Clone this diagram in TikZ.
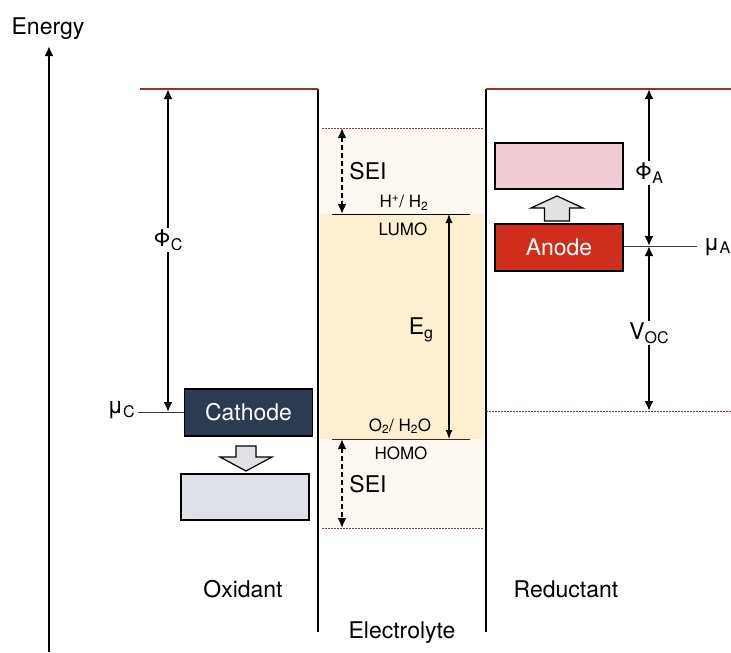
\documentclass[tikz,border=0pt]{standalone}
\usepackage{fontspec}
\setmainfont{TeX Gyre Heros}
\usetikzlibrary{arrows.meta,calc,positioning}
\definecolor{levelred}{RGB}{150,52,40}
\definecolor{cathodeblue}{RGB}{44,58,82}
\definecolor{cathodegrey}{RGB}{222,225,232}
\definecolor{anodered}{RGB}{208,46,28}
\definecolor{anodepink}{RGB}{242,204,212}
\definecolor{arrowgrey}{RGB}{226,226,230}
\definecolor{bandyellow}{RGB}{252,240,208}
\definecolor{seipale}{RGB}{253,249,242}
\newcommand{\lsub}[2]{#1\raisebox{-.3ex}{\fontsize{16}{16}\selectfont #2}}

\begin{document}
\begin{tikzpicture}[x=1pt,y=-1pt,
  font=\fontsize{23}{27}\selectfont,
  wall/.style={line width=2.6pt},
  level/.style={draw=levelred,line width=1.1pt},
  dotlevel/.style={draw=levelred,line width=1pt,dash pattern=on 1.5pt off 1.5pt},
  arr/.style={{Latex[length=10pt,width=9pt]}-{Latex[length=10pt,width=9pt]},line width=2.3pt},
  thinarr/.style={{Latex[length=9pt,width=7pt]}-{Latex[length=9pt,width=7pt]},line width=1.1pt},
  seiarr/.style={arr,dash pattern=on 5pt off 3pt},
  lbl/.style={fill=white,inner sep=2pt},
  small/.style={font=\fontsize{17}{19}\selectfont,inner sep=0pt},
  band/.style={draw=black,line width=1.8pt,minimum width=128pt,minimum height=47pt,inner sep=0pt},
  blockarr/.style={draw=black,line width=1.2pt,fill=arrowgrey}]
\useasboundingbox (0,0) rectangle (731,653);

% electrolyte window and its SEI margins
\fill[seipale] (320,128) rectangle (484,214);
\fill[bandyellow] (320,214) rectangle (484,439);
\fill[seipale] (320,439) rectangle (484,528);

% energy axis
\node (energy) at (48,29) {Energy};
\coordinate (axisbot) at (49,652);
\coordinate (axistop) at (49,46);
\draw[line width=2.8pt,-{Latex[length=10pt,width=9pt]}] (axisbot) -- (axistop);

% walls of the oxidant and the reductant
\coordinate (oxtop) at (318,89);
\coordinate (oxbot) at (318,632);
\coordinate (redtop) at (486,89);
\coordinate (redbot) at (486,632);
\draw[wall] (oxtop) -- (oxbot);
\draw[wall] (redtop) -- (redbot);
\draw[level] (140,89) -- (oxtop);
\draw[level] (redtop) -- (731,89);
\draw[dotlevel] (redtop |- 0,411) coordinate (vocbot) -- (731,411);
\draw[dotlevel] (322,128) coordinate (seitop) -- (484,128);
\draw[dotlevel] (322,528) coordinate (seibot) -- (484,528);

% cathode side
\node[band,fill=cathodeblue,text=white] (cathode) at (248.5,412.5) {Cathode};
\node[band,fill=cathodegrey,minimum height=46pt] (cathodeox) at (245,497) {};
\node (muC) at (121,410) {\lsub{μ}{C}};
\draw[draw=cathodeblue,line width=.8pt] (cathode.west) -- (cathode.west -| muC.east);
\coordinate (phiCtop) at (168,89);
\coordinate (phiCbot) at (168,412);
\draw[arr] (phiCtop) -- (phiCbot);
\node[lbl] (phiC) at (168,240) {\lsub{Φ}{C}};
\draw[blockarr,shift={(246,471)}] (0,0) -- (26,-14) -- (10,-14) -- (10,-25)
  -- (-10,-25) -- (-10,-14) -- (-26,-14) -- cycle;
\node (oxidant) at (243,589) {Oxidant};

% electrolyte
\coordinate (lumoL) at (332,214);
\coordinate (homoL) at (332,439);
\draw[line width=.9pt] (lumoL) -- ++(138,0);
\draw[draw=levelred!60!black,line width=.9pt] (homoL) -- ++(138,0);
\draw[seiarr] (seitop -| 342,0) -- (lumoL -| 342,0);
\draw[seiarr] (homoL -| 342,0) -- (seibot -| 342,0);
\node (seiU) at (368,171) {SEI};
\node (seiL) at (368,484) {SEI};
\draw[thinarr] (lumoL -| 449,0) -- (homoL -| 449,0);
\node (Eg) at (421,330) {\lsub{E}{g}};
\node[small] (lumo) at (403,229) {LUMO};
\node[small] (hred) at (404,203) {H\textsuperscript{+}/ H\textsubscript{2}};
\node[small] (homo) at (401,453) {HOMO};
\node[small] (oxw) at (400,426) {O\textsubscript{2}/ H\textsubscript{2}O};
\node (electrolyte) at (402,633) {Electrolyte};

% anode side
\node[band,fill=anodered,text=white] (anode) at (559,247.5) {Anode};
\node[band,fill=anodepink,minimum height=46pt] (anodeox) at (559,166) {};
\node (muA) at (717,247) {\lsub{μ}{A}};
\coordinate (muAend) at (697,246);
\draw[draw=cathodeblue,line width=.8pt] (anode.east |- muAend) -- (muAend);
\coordinate (phiAtop) at (649,89);
\coordinate (muAlvl) at (649,246);
\draw[arr] (phiAtop) -- (muAlvl);
\draw[arr] (muAlvl) -- (vocbot -| muAlvl);
\node[lbl] (phiA) at (649,173) {\lsub{Φ}{A}};
\node[lbl] (voc) at (649,333) {\lsub{V}{OC}};
\draw[blockarr,shift={(557,196)}] (0,0) -- (26,12) -- (12.5,12) -- (12.5,25)
  -- (-12.5,25) -- (-12.5,12) -- (-26,12) -- cycle;
\node (reductant) at (566,589) {Reductant};
\end{tikzpicture}
\end{document}
